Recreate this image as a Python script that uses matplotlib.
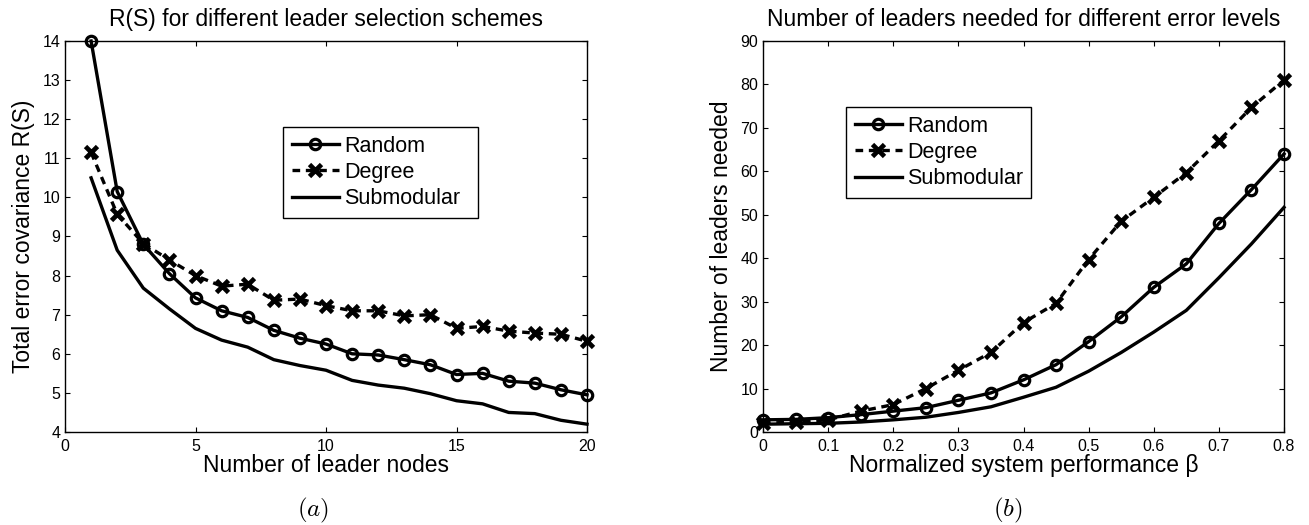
import matplotlib
matplotlib.use("Agg")
import matplotlib.pyplot as plt
import numpy as np

plt.rcParams['font.family'] = ['Liberation Sans', 'DejaVu Sans']
plt.rcParams['mathtext.fontset'] = 'cm'

# Panel (a)
k_nodes = list(range(1, 21))
random_a = [14.0, 10.15, 8.8, 8.05, 7.43, 7.1, 6.93, 6.6, 6.4, 6.25,
            6.0, 5.97, 5.85, 5.72, 5.47, 5.5, 5.3, 5.25, 5.08, 4.95]
degree_a = [11.15, 9.57, 8.82, 8.4, 8.0, 7.73, 7.78, 7.37, 7.4, 7.23,
            7.1, 7.1, 6.97, 7.0, 6.65, 6.7, 6.58, 6.53, 6.5, 6.32]
submod_a = [10.5, 8.65, 7.68, 7.15, 6.65, 6.35, 6.17, 5.85, 5.7, 5.58,
            5.32, 5.2, 5.12, 4.98, 4.8, 4.72, 4.5, 4.47, 4.3, 4.2]

# Panel (b)
beta = [0.0, 0.05, 0.1, 0.15, 0.2, 0.25, 0.3, 0.35, 0.4, 0.45,
        0.5, 0.55, 0.6, 0.65, 0.7, 0.75, 0.8]
random_b = [2.8, 2.9, 3.3, 4.0, 4.8, 5.6, 7.3, 9.0, 12.0, 15.5,
            20.8, 26.5, 33.3, 38.7, 48.0, 55.8, 64.0]
degree_b = [2.0, 2.3, 2.8, 4.8, 6.3, 10.0, 14.2, 18.3, 25.2, 29.6,
            39.7, 48.5, 54.0, 59.7, 67.0, 74.7, 81.0]
submod_b = [1.8, 1.9, 2.0, 2.3, 2.8, 3.4, 4.5, 5.8, 8.0, 10.3,
            14.0, 18.3, 23.0, 28.0, 35.5, 43.3, 51.7]

labels = ['Random', 'Degree', 'Submodular']
x_ticks_a = [0, 5, 10, 15, 20]
y_ticks_a = list(range(4, 15))
x_ticks_b = [0, 0.1, 0.2, 0.3, 0.4, 0.5, 0.6, 0.7, 0.8]
x_ticklabels_b = ['0', '0.1', '0.2', '0.3', '0.4', '0.5', '0.6', '0.7', '0.8']
y_ticks_b = list(range(0, 91, 10))

W, H = 1309, 525
fig = plt.figure(figsize=(W/100, H/100), dpi=100)

def ax_rect(x0, x1, y0, y1):
    return [x0/W, 1 - y1/H, (x1-x0)/W, (y1-y0)/H]

ax1 = fig.add_axes(ax_rect(65, 587, 41, 432))
ax2 = fig.add_axes(ax_rect(763, 1284, 41, 432))

lw = 2.4
def draw(ax, x, r, d, s):
    ax.plot(x, r, '-', color='black', lw=lw, marker='o', ms=7.5,
            mfc='none', mec='black', mew=2.3, label=labels[0], clip_on=False)
    ax.plot(x, d, '--', color='black', lw=lw, marker='x', ms=8,
            mew=3.4, dashes=(2.3, 1.7), label=labels[1], clip_on=False)
    ax.plot(x, s, '-', color='black', lw=lw, label=labels[2], clip_on=False)

draw(ax1, k_nodes, random_a, degree_a, submod_a)
draw(ax2, beta, random_b, degree_b, submod_b)

ax1.set_xlim(0, 20)
ax1.set_ylim(4, 14)
ax1.set_xticks(x_ticks_a)
ax1.set_yticks(y_ticks_a)
ax2.set_xlim(0, 0.8)
ax2.set_ylim(0, 90)
ax2.set_xticks(x_ticks_b)
ax2.set_xticklabels(x_ticklabels_b)
ax2.set_yticks(y_ticks_b)

for ax in (ax1, ax2):
    ax.tick_params(direction='in', top=True, right=True, labelsize=11.5,
                   length=3.5, width=0.8)
    ax.tick_params(axis='x', pad=5)
    ax.tick_params(axis='y', pad=3.5)
    for sp in ax.spines.values():
        sp.set_linewidth(1.0)

fs_lab = 16.5
ax1.set_title('R(S) for different leader selection schemes', fontsize=16.5, pad=11)
ax1.set_xlabel('Number of leader nodes', fontsize=fs_lab, labelpad=0)
ax1.set_ylabel('Total error covariance R(S)', fontsize=fs_lab, labelpad=5)
ax2.set_title('Number of leaders needed for different error levels', fontsize=16.5, pad=11)
ax2.set_xlabel('Normalized system performance β', fontsize=fs_lab, labelpad=0)
ax2.set_ylabel('Number of leaders needed', fontsize=fs_lab, labelpad=5)

def legend(ax, x0, y0, x1, y1):
    bb = ax.get_position()
    fx0, fx1 = x0/W, x1/W
    fy0, fy1 = 1 - y1/H, 1 - y0/H
    axx0 = (fx0 - bb.x0)/bb.width
    axy0 = (fy0 - bb.y0)/bb.height
    axw = (fx1 - fx0)/bb.width
    axh = (fy1 - fy0)/bb.height
    leg = ax.legend(loc='upper left', bbox_to_anchor=(axx0, axy0, axw, axh),
                    mode='expand', fontsize=15.5, frameon=True, fancybox=False,
                    edgecolor='black', borderaxespad=0, handlelength=2.2,
                    handletextpad=0.25, labelspacing=0.25, borderpad=0.4,
                    framealpha=1)
    leg.get_frame().set_linewidth(1.0)
    return leg

legend(ax1, 283, 127, 478, 238)
legend(ax2, 846, 107, 1031, 213)

fig.text(313/W, 1 - 510/H, '$(a)$', ha='center', va='center', fontsize=18)
fig.text(1008/W, 1 - 510/H, '$(b)$', ha='center', va='center', fontsize=18)

fig.savefig('out.png', dpi=100)
